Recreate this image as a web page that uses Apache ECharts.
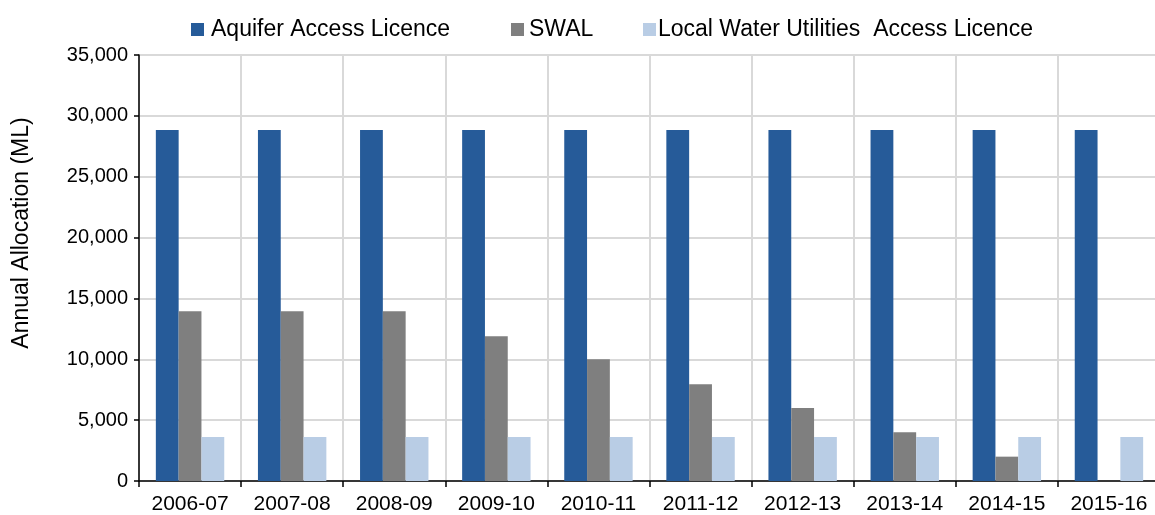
<!DOCTYPE html>
<html>
<head>
<meta charset="utf-8">
<script src="https://cdn.jsdelivr.net/npm/echarts@6/dist/echarts.min.js"></script>
<style>
  html, body { margin: 0; padding: 0; background: #fff; }
  #chart { width: 1155px; height: 515px; }
</style>
</head>
<body>
<div id="chart"></div>
<script>
const years = ['2006-07', '2007-08', '2008-09', '2009-10', '2010-11', '2011-12', '2012-13', '2013-14', '2014-15', '2015-16']
const aquifer = [28840, 28840, 28840, 28840, 28840, 28840, 28840, 28840, 28840, 28840]
const swal = [13950, 13950, 13950, 11900, 10000, 7950, 6000, 4000, 2000, null]
const localWater = [3620, 3620, 3620, 3620, 3620, 3620, 3620, 3620, 3620, 3620]
const seriesNames = ['Aquifer Access Licence', 'SWAL', 'Local Water Utilities  Access Licence']

const font = 'Liberation Sans, Arial, sans-serif'
const gridColor = '#d9d9d9'

const chart = echarts.init(document.getElementById('chart'))

// one legend per item so the gaps can follow the original
const legendLeft = [186, 506, 638]
const legendPad = [2, 0, -3]
const legends = seriesNames.map((name, i) => ({
  left: legendLeft[i],
  top: 13,
  icon: 'rect',
  itemWidth: 13,
  itemHeight: 13,
  textStyle: { fontFamily: font, fontSize: 23, color: '#000', padding: [0, 0, 0, legendPad[i]] },
  data: [name]
}))

const option = {
  animation: false,
  textStyle: { fontFamily: font },
  legend: legends,
  // plot runs slightly past the right edge in the original
  grid: { left: 139, width: 1021, top: 55, bottom: 34, outerBoundsMode: 'none' },
  xAxis: {
    type: 'category',
    data: years,
    boundaryGap: true,
    axisLine: { lineStyle: { color: '#000', width: 1.5 } },
    axisTick: { show: true, length: 6, lineStyle: { color: '#000', width: 1.5 } },
    axisLabel: { color: '#000', fontSize: 21, fontFamily: font, margin: 13 },
    splitLine: { show: true, lineStyle: { color: gridColor, width: 2 } }
  },
  yAxis: {
    type: 'value',
    min: 0,
    max: 35000,
    interval: 5000,
    name: 'Annual Allocation (ML)',
    nameLocation: 'middle',
    nameGap: 106,
    nameTextStyle: { color: '#000', fontSize: 23, fontFamily: font, padding: [0, 0, 0, 70] },
    axisLine: { show: true, lineStyle: { color: '#000', width: 1.5 } },
    axisTick: { show: true, length: 5, lineStyle: { color: '#000', width: 1.5 } },
    axisLabel: {
      color: '#000',
      fontSize: 20,
      fontFamily: font,
      margin: 11,
      formatter: (v) => v.toLocaleString('en-US')
    },
    splitLine: { show: true, lineStyle: { color: gridColor, width: 2 } }
  },
  series: [
    {
      name: seriesNames[0],
      type: 'bar',
      data: aquifer,
      barGap: '0%',
      barCategoryGap: '33%',
      itemStyle: { color: '#265b99' }
    },
    {
      name: seriesNames[1],
      type: 'bar',
      data: swal,
      itemStyle: { color: '#7f7f7f' }
    },
    {
      name: seriesNames[2],
      type: 'bar',
      data: localWater,
      itemStyle: { color: '#b9cde5' }
    }
  ]
}

chart.setOption(option)
window.addEventListener('resize', () => chart.resize())
</script>
</body>
</html>
